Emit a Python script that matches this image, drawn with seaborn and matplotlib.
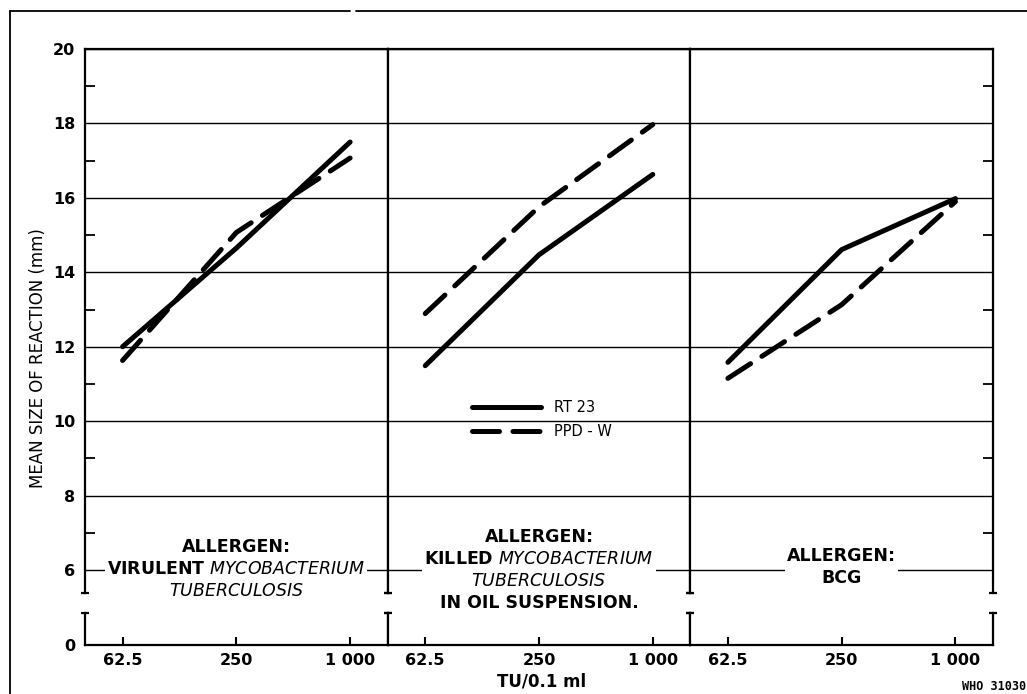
import numpy as np
import pandas as pd
import matplotlib
matplotlib.use("Agg")
import matplotlib.pyplot as plt
from matplotlib.lines import Line2D
from matplotlib.ticker import MultipleLocator, NullLocator
import seaborn as sns

# doses (TU/0.1 ml) and tick labels
doses = [62.5, 250, 1000]
dose_labels = ["62.5", "250", "1 000"]

# mean size of reaction (mm)
rt23_virulent = [12.0, 14.65, 17.5]
ppdw_virulent = [11.63, 15.07, 17.07]
rt23_killed = [11.49, 14.47, 16.63]
ppdw_killed = [12.89, 15.76, 17.97]
rt23_bcg = [11.58, 14.61, 15.98]
ppdw_bcg = [11.15, 13.13, 15.9]

panels = ["virulent", "killed", "bcg"]
tests = ["RT 23", "PPD - W"]

panel_labels = [
    "ALLERGEN:\n$\\mathbf{VIRULENT}\\ \\mathit{MYCOBACTERIUM}$\n$\\mathit{TUBERCULOSIS}$",
    "ALLERGEN:\n$\\mathbf{KILLED}\\ \\mathit{MYCOBACTERIUM}$\n$\\mathit{TUBERCULOSIS}$\nIN OIL SUSPENSION.",
    "ALLERGEN:\nBCG",
]
label_y = [6.03, 6.0, 6.07]

rows = []
series = {
    ("virulent", "RT 23"): rt23_virulent,
    ("virulent", "PPD - W"): ppdw_virulent,
    ("killed", "RT 23"): rt23_killed,
    ("killed", "PPD - W"): ppdw_killed,
    ("bcg", "RT 23"): rt23_bcg,
    ("bcg", "PPD - W"): ppdw_bcg,
}
for (p, t), vals in series.items():
    for d, v in zip(doses, vals):
        rows.append({"panel": p, "test": t, "dose": d, "size": v})
df = pd.DataFrame(rows)

sns.set_style("ticks")
plt.rcParams["font.family"] = ["DejaVu Sans"]
plt.rcParams["text.color"] = "black"
plt.rcParams["axes.labelcolor"] = "black"
plt.rcParams["xtick.color"] = "black"
plt.rcParams["ytick.color"] = "black"
plt.rcParams["mathtext.fontset"] = "custom"
plt.rcParams["mathtext.rm"] = "DejaVu Sans"
plt.rcParams["mathtext.it"] = "DejaVu Sans:italic"
plt.rcParams["mathtext.bf"] = "DejaVu Sans:bold"

W, H = 1027, 694
fig = plt.figure(figsize=(W / 100, H / 100), dpi=100)
gs = fig.add_gridspec(2, 3, left=85 / W, right=993 / W, top=1 - 49 / H,
                      bottom=1 - 645 / H, height_ratios=[544, 32],
                      hspace=20 / 288, wspace=0)

xlim = (62.5 / 4 ** 0.33, 1000 * 4 ** 0.33)
px_per_unit = 521 / 14
spine_lw = 1.6
tick_font = dict(fontsize=11.5, fontweight="bold")

for i, p in enumerate(panels):
    ax = fig.add_subplot(gs[0, i])
    axb = fig.add_subplot(gs[1, i])

    sns.lineplot(data=df[df.panel == p], x="dose", y="size", style="test",
                 style_order=tests, dashes={"RT 23": "", "PPD - W": (5.4, 2.7)},
                 color="black", lw=3.6, solid_capstyle="round",
                 dash_capstyle="round", legend=False, ax=ax, zorder=4)
    ax.set_xscale("log")
    ax.set_xlim(xlim)
    ax.set_ylim(20 - 544 / px_per_unit, 20)
    ax.yaxis.set_major_locator(MultipleLocator(2))
    ax.yaxis.set_minor_locator(MultipleLocator(1))
    ax.grid(axis="y", which="major", color="black", lw=1.0)
    ax.grid(axis="x", visible=False)
    ax.set_xlabel("")
    ax.set_ylabel("")
    ax.tick_params(axis="x", which="both", bottom=False, top=False, labelbottom=False)
    ax.tick_params(axis="y", which="major", length=0, pad=7,
                   left=False, right=False, labelleft=(i == 0))
    ax.tick_params(axis="y", which="minor", direction="in", length=7, width=1.3,
                   left=(i == 0), right=(i == 2))
    for lab in ax.get_yticklabels():
        lab.set(**tick_font)
    ax.spines["bottom"].set_visible(False)
    for s in ["top", "left", "right"]:
        ax.spines[s].set_linewidth(spine_lw)
        ax.spines[s].set_color("black")

    axb.set_xscale("log")
    axb.set_xlim(xlim)
    axb.set_ylim(0, 32 / px_per_unit)
    axb.set_xticks(doses)
    axb.set_xticklabels(dose_labels, **tick_font)
    axb.xaxis.set_minor_locator(NullLocator())
    axb.set_yticks([0])
    axb.set_yticklabels(["0"], **tick_font)
    axb.tick_params(axis="x", direction="in", length=6, width=1.5, pad=6)
    axb.tick_params(axis="y", length=0, pad=7, labelleft=(i == 0))
    axb.spines["top"].set_visible(False)
    for s in ["bottom", "left", "right"]:
        axb.spines[s].set_linewidth(spine_lw)
        axb.spines[s].set_color("black")

    # caps at the axis break
    for xx in (0, 1):
        ax.plot([xx], [0], marker="_", ms=6, mew=1.6, color="black",
                transform=ax.transAxes, clip_on=False)
        axb.plot([xx], [1], marker="_", ms=6, mew=1.6, color="black",
                 transform=axb.transAxes, clip_on=False)

    ax.text(250, label_y[i], panel_labels[i], ha="center", va="center",
            multialignment="center", fontsize=12.5, fontweight="bold",
            linespacing=1.3, zorder=3,
            bbox=dict(boxstyle="square,pad=0.12", facecolor="white", edgecolor="none"))

    if i == 1:
        handles = ax.get_lines()[:2]
        ax.legend(handles, tests, loc="center left", frameon=False,
                  bbox_to_anchor=(472 / W, 1 - 419.5 / H),
                  bbox_transform=fig.transFigure, borderpad=0, borderaxespad=0,
                  handlelength=4.7, handletextpad=0.9, labelspacing=0.6,
                  fontsize=10.5)

fig.text(38 / W, 1 - 358 / H, "MEAN SIZE OF REACTION (mm)", rotation=90,
         ha="center", va="center", fontsize=12)
fig.text(542 / W, 1 - 682 / H, "TU/0.1 ml", ha="center", va="center",
         fontsize=12, fontweight="bold")
fig.text(962 / W, 1 - 687 / H, "WHO 31030", ha="left", va="center",
         fontsize=8.5, family="DejaVu Sans Mono", fontweight="bold")

# outer frame of the original plate
fig.add_artist(Line2D([10 / W, 350 / W], [1 - 11 / H, 1 - 11 / H], color="black", lw=1.3))
fig.add_artist(Line2D([356 / W, 1], [1 - 11 / H, 1 - 11 / H], color="black", lw=1.3))
fig.add_artist(Line2D([10 / W, 10 / W], [0, 1 - 11 / H], color="black", lw=1.3))

fig.savefig("out.png", dpi=100)
